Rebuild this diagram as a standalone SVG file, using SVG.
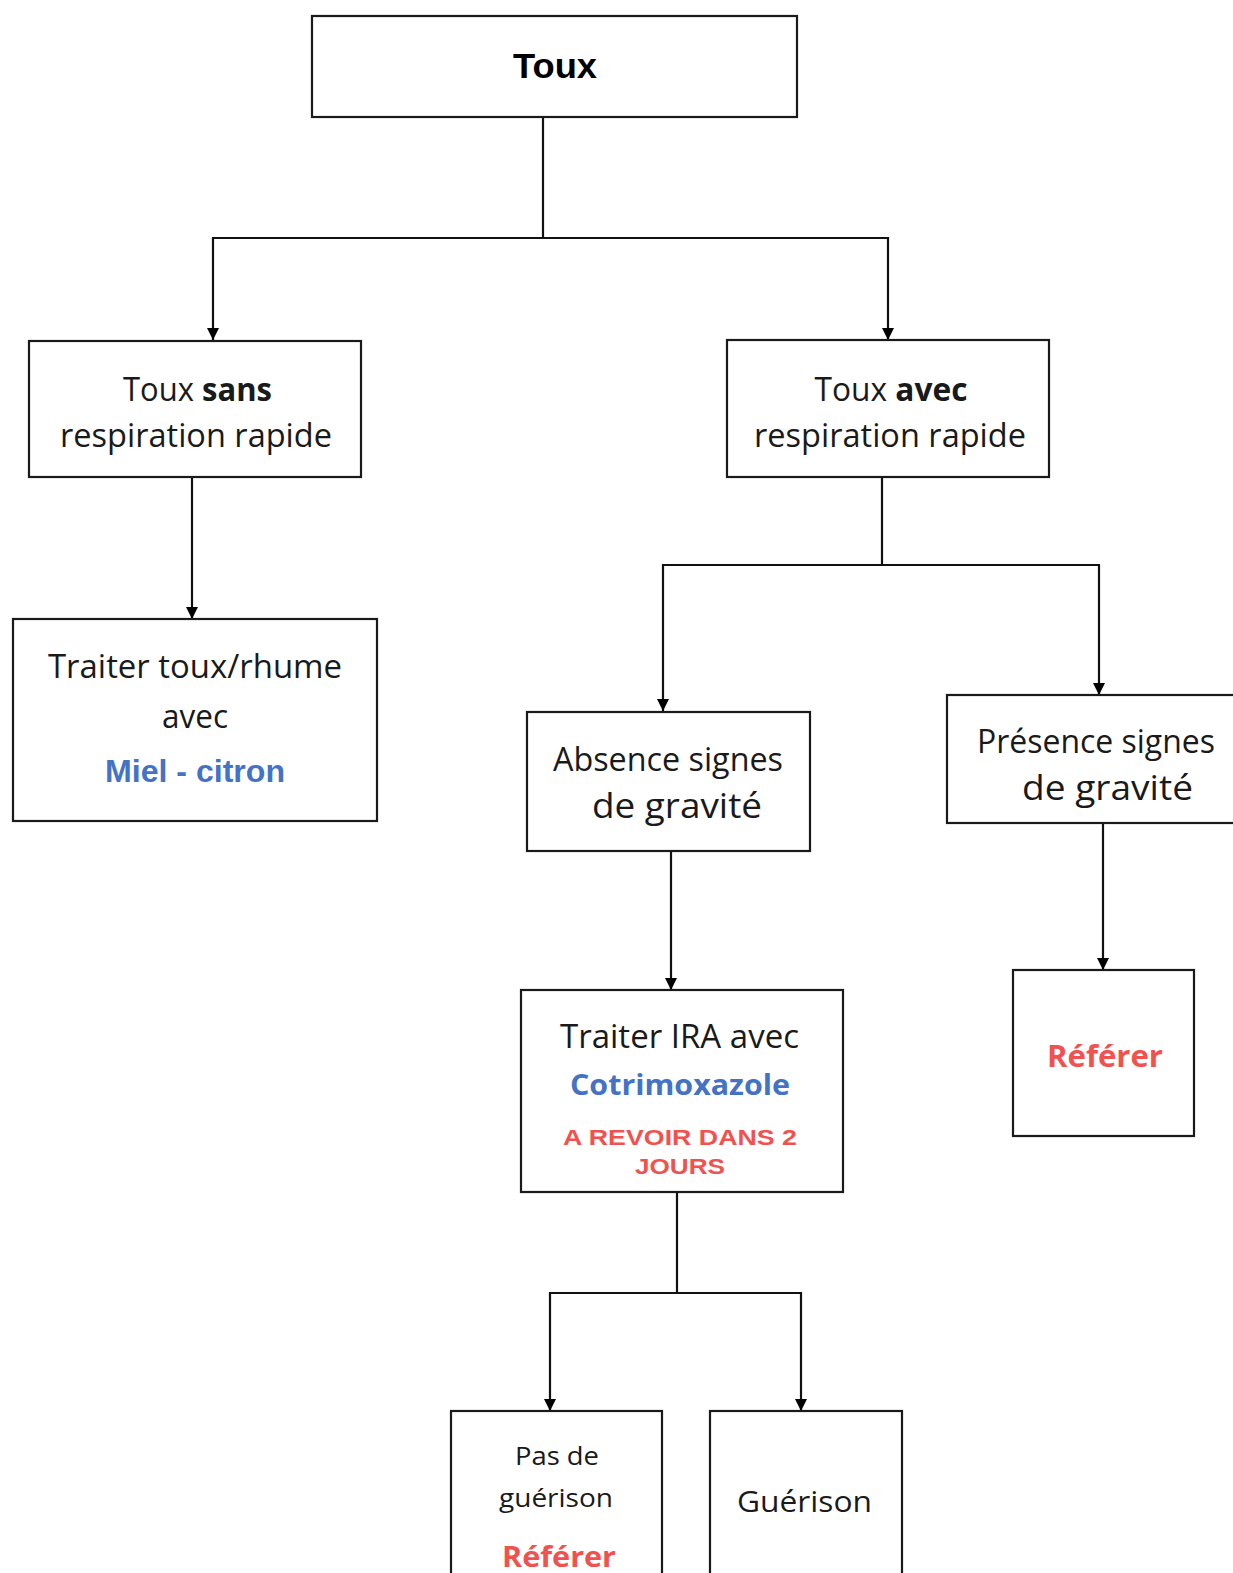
<svg xmlns="http://www.w3.org/2000/svg" width="1233" height="1573" viewBox="0 0 1233 1573">
<style>
.box{fill:#fff;stroke:#1a1a1a;stroke-width:2.2}
.con{fill:none;stroke:#111;stroke-width:2.2}
.arr{marker-end:url(#arr)}
.t{font-family:"Open Sans","Noto Sans",sans-serif;fill:#1a1a1a;text-anchor:middle}
.b{font-weight:bold}
.a{font-family:"Liberation Sans",Arial,sans-serif;font-weight:bold;text-anchor:middle}
.blue{fill:#4472C4}
.red{fill:#F0524F}
</style>
<defs>
<marker id="arr" markerUnits="userSpaceOnUse" markerWidth="12" markerHeight="12" viewBox="0 0 12 12" refX="12" refY="6" orient="auto">
<path d="M0,0 L12,6 L0,12 Z" fill="#000"/>
</marker>
</defs>
<rect width="1233" height="1573" fill="#fff"/>
<g id="connectors">
<path class="con arr" d="M543,117 V238 H213 V340"/>
<path class="con arr" d="M543,238 H888 V340"/>
<path class="con arr" d="M192,477 V619"/>
<path class="con arr" d="M882,477 V565 H663 V711"/>
<path class="con arr" d="M882,565 H1099 V695"/>
<path class="con arr" d="M671,851 V990"/>
<path class="con arr" d="M1103,823 V970"/>
<path class="con arr" d="M677,1192 V1293 H550 V1411"/>
<path class="con arr" d="M677,1293 H801 V1411"/>
</g>
<g id="toux">
<rect class="box" x="312" y="16" width="485" height="101"/>
<text class="a" x="555" y="78" font-size="35" fill="#000" textLength="84" lengthAdjust="spacingAndGlyphs">Toux</text>
</g>
<g id="sans">
<rect class="box" x="29" y="341" width="332" height="136"/>
<text class="t" x="197.5" y="401" font-size="32" textLength="149" lengthAdjust="spacingAndGlyphs">Toux <tspan class="b">sans</tspan></text>
<text class="t" x="196" y="447" font-size="32" textLength="272" lengthAdjust="spacingAndGlyphs">respiration rapide</text>
</g>
<g id="avec">
<rect class="box" x="727" y="340" width="322" height="137"/>
<text class="t" x="891" y="401" font-size="32" textLength="153" lengthAdjust="spacingAndGlyphs">Toux <tspan class="b">avec</tspan></text>
<text class="t" x="890" y="447" font-size="32" textLength="272" lengthAdjust="spacingAndGlyphs">respiration rapide</text>
</g>
<g id="miel">
<rect class="box" x="13" y="619" width="364" height="202"/>
<text class="t" x="195" y="678" font-size="32" textLength="294" lengthAdjust="spacingAndGlyphs">Traiter toux/rhume</text>
<text class="t" x="195" y="728" font-size="32" textLength="66" lengthAdjust="spacingAndGlyphs">avec</text>
<text class="a blue" x="195" y="782" font-size="31" textLength="180" lengthAdjust="spacingAndGlyphs">Miel - citron</text>
</g>
<g id="absence">
<rect class="box" x="527" y="712" width="283" height="139"/>
<text class="t" x="668" y="771" font-size="32" textLength="230" lengthAdjust="spacingAndGlyphs">Absence signes</text>
<text class="t" x="677" y="818" font-size="35" textLength="170" lengthAdjust="spacingAndGlyphs">de gravité</text>
</g>
<g id="presence">
<rect class="box" x="947" y="695" width="300" height="128"/>
<text class="t" x="1096" y="753" font-size="32" textLength="238" lengthAdjust="spacingAndGlyphs">Présence signes</text>
<text class="t" x="1107.5" y="800" font-size="35" textLength="171" lengthAdjust="spacingAndGlyphs">de gravité</text>
</g>
<g id="ira">
<rect class="box" x="521" y="990" width="322" height="202"/>
<text class="t" x="679.5" y="1048" font-size="32" textLength="239" lengthAdjust="spacingAndGlyphs">Traiter IRA avec</text>
<text class="t b blue" x="680" y="1095" font-size="28" textLength="220" lengthAdjust="spacingAndGlyphs">Cotrimoxazole</text>
<text class="a red" x="680" y="1145" font-size="22" textLength="234" lengthAdjust="spacingAndGlyphs">A REVOIR DANS 2</text>
<text class="a red" x="680" y="1174" font-size="22" textLength="90" lengthAdjust="spacingAndGlyphs">JOURS</text>
</g>
<g id="referer">
<rect class="box" x="1013" y="970" width="181" height="166"/>
<text class="t b red" x="1105" y="1067" font-size="30" textLength="116" lengthAdjust="spacingAndGlyphs">Référer</text>
</g>
<g id="pasdeguerison">
<rect class="box" x="451" y="1411" width="211" height="200"/>
<text class="t" x="557" y="1465" font-size="25" textLength="84" lengthAdjust="spacingAndGlyphs">Pas de</text>
<text class="t" x="556" y="1507" font-size="25" textLength="114" lengthAdjust="spacingAndGlyphs">guérison</text>
<text class="t b red" x="559" y="1567" font-size="28" textLength="114" lengthAdjust="spacingAndGlyphs">Référer</text>
</g>
<g id="guerison">
<rect class="box" x="710" y="1411" width="192" height="200"/>
<text class="t" x="804.5" y="1512" font-size="30" textLength="135" lengthAdjust="spacingAndGlyphs">Guérison</text>
</g>
</svg>
